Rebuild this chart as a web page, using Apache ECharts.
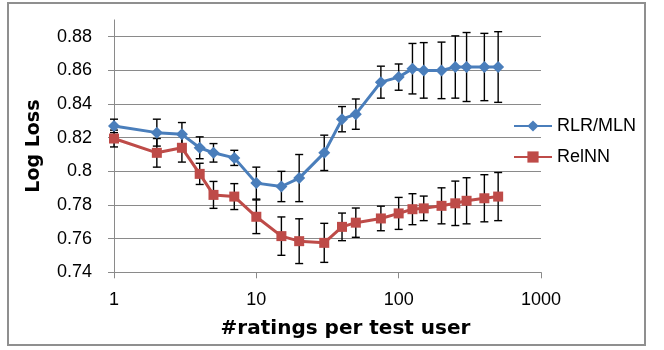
<!DOCTYPE html>
<html>
<head>
<meta charset="utf-8">
<script src="https://cdn.jsdelivr.net/npm/echarts@6/dist/echarts.min.js"></script>
<style>
html,body{margin:0;padding:0;background:#fff;}
#chart{width:664px;height:350px;}
</style>
</head>
<body>
<div id="chart"></div>
<script>
// ---- data ----
var ratings = [1, 2, 3, 4, 5, 7, 10, 15, 20, 30, 40, 50, 75, 100, 125, 150, 200, 250, 300, 400, 500];
var rlrMln = [0.827, 0.823, 0.822, 0.814, 0.811, 0.808, 0.793, 0.791, 0.796, 0.811, 0.831, 0.834, 0.853, 0.856, 0.861, 0.860, 0.860, 0.862, 0.862, 0.862, 0.862];
var rlrMlnErr = [0.004, 0.008, 0.007, 0.0065, 0.0055, 0.0045, 0.0095, 0.009, 0.014, 0.0105, 0.0075, 0.009, 0.0095, 0.0078, 0.015, 0.0165, 0.0168, 0.0185, 0.0205, 0.02, 0.021];
var relNN = [0.8195, 0.811, 0.814, 0.7985, 0.786, 0.785, 0.773, 0.7615, 0.7585, 0.7575, 0.767, 0.7695, 0.772, 0.775, 0.7775, 0.778, 0.7795, 0.781, 0.7825, 0.784, 0.785];
var relNNErr = [0.005, 0.0085, 0.0085, 0.0063, 0.008, 0.0077, 0.01, 0.0114, 0.0133, 0.0116, 0.0082, 0.0087, 0.0073, 0.0095, 0.0092, 0.0073, 0.0107, 0.0132, 0.0137, 0.014, 0.0143];
var yTicks = [0.74, 0.76, 0.78, 0.80, 0.82, 0.84, 0.86, 0.88];
var seriesNames = ['RLR/MLN', 'RelNN'];
var xTitle = '#ratings per test user';
var yTitle = 'Log Loss';

function pts(vals) { return ratings.map(function (x, i) { return [x, vals[i]]; }); }
function errs(vals, e) { return ratings.map(function (x, i) { return [x, vals[i] - e[i], vals[i] + e[i]]; }); }

function errRender(params, api) {
  var x = api.value(0), lo = api.value(1), hi = api.value(2);
  var a = api.coord([x, hi]), b = api.coord([x, lo]);
  var hw = 4;
  var st = { stroke: '#000', lineWidth: 1.4 };
  return {
    type: 'group',
    children: [
      { type: 'line', shape: { x1: a[0], y1: a[1], x2: b[0], y2: b[1] }, style: st },
      { type: 'line', shape: { x1: a[0] - hw, y1: a[1], x2: a[0] + hw, y2: a[1] }, style: st },
      { type: 'line', shape: { x1: b[0] - hw, y1: b[1], x2: b[0] + hw, y2: b[1] }, style: st }
    ]
  };
}

var regFont = 'Liberation Sans';
var boldFont = 'DejaVu Sans';
var gridColor = '#8a8a8a';

var chart = echarts.init(document.getElementById('chart'), null, { renderer: 'canvas' });
chart.setOption({
  animation: false,
  backgroundColor: '#fff',
  graphic: [{
    type: 'rect', silent: true, z: -10,
    shape: { x: 8, y: 3, width: 637, height: 342 },
    style: { fill: 'none', stroke: '#8f8f8f', lineWidth: 2 }
  }],
  grid: { left: 114, right: 123, top: 19.9, bottom: 77.7, containLabel: false },
  legend: {
    orient: 'vertical', left: 508, top: 112,
    itemWidth: 38, itemHeight: 14, itemGap: 13,
    data: seriesNames,
    textStyle: { fontFamily: regFont, fontSize: 18, color: '#000' }
  },
  xAxis: {
    type: 'log', logBase: 10, min: 1, max: 1000,
    name: xTitle, nameLocation: 'middle', nameGap: 46,
    nameTextStyle: { fontFamily: boldFont, fontWeight: 'bold', fontSize: 20, color: '#000', padding: [0, 0, 0, 36] },
    axisLine: { show: true, lineStyle: { color: gridColor, width: 1 } },
    axisTick: { show: true, inside: false, length: 6, lineStyle: { color: gridColor } },
    axisLabel: { fontFamily: regFont, fontSize: 18, color: '#000', margin: 19,
      formatter: function (v) { return String(Math.round(v)); } },
    splitLine: { show: false },
    minorTick: { show: false }
  },
  yAxis: {
    type: 'value', min: 0.74, max: 0.89, interval: 0.02,
    name: yTitle, nameLocation: 'middle', nameGap: 70, nameRotate: 90,
    nameTextStyle: { fontFamily: boldFont, fontWeight: 'bold', fontSize: 19, color: '#000' },
    axisLine: { show: true, lineStyle: { color: gridColor, width: 1 } },
    axisTick: { show: true, inside: false, length: 6, lineStyle: { color: gridColor }, customValues: yTicks },
    axisLabel: { fontFamily: regFont, fontSize: 18, color: '#000', margin: 22, customValues: yTicks,
      formatter: function (v) { return String(Math.round(v * 100) / 100); } },
    splitLine: { show: true, lineStyle: { color: gridColor, width: 1 } }
  },
  series: [
    {
      type: 'custom', name: 'errA', renderItem: errRender, data: errs(rlrMln, rlrMlnErr),
      encode: { x: 0, y: [1, 2] }, z: 1, silent: true
    },
    {
      type: 'custom', name: 'errB', renderItem: errRender, data: errs(relNN, relNNErr),
      encode: { x: 0, y: [1, 2] }, z: 1, silent: true
    },
    {
      type: 'line', name: seriesNames[0], data: pts(rlrMln), z: 3,
      symbol: 'diamond', symbolSize: [12, 12],
      lineStyle: { color: '#4a7ebb', width: 3 },
      itemStyle: { color: '#4a7ebb' }
    },
    {
      type: 'line', name: seriesNames[1], data: pts(relNN), z: 3,
      symbol: 'rect', symbolSize: 10,
      lineStyle: { color: '#be4b48', width: 3 },
      itemStyle: { color: '#be4b48' }
    }
  ]
});
</script>
</body>
</html>
